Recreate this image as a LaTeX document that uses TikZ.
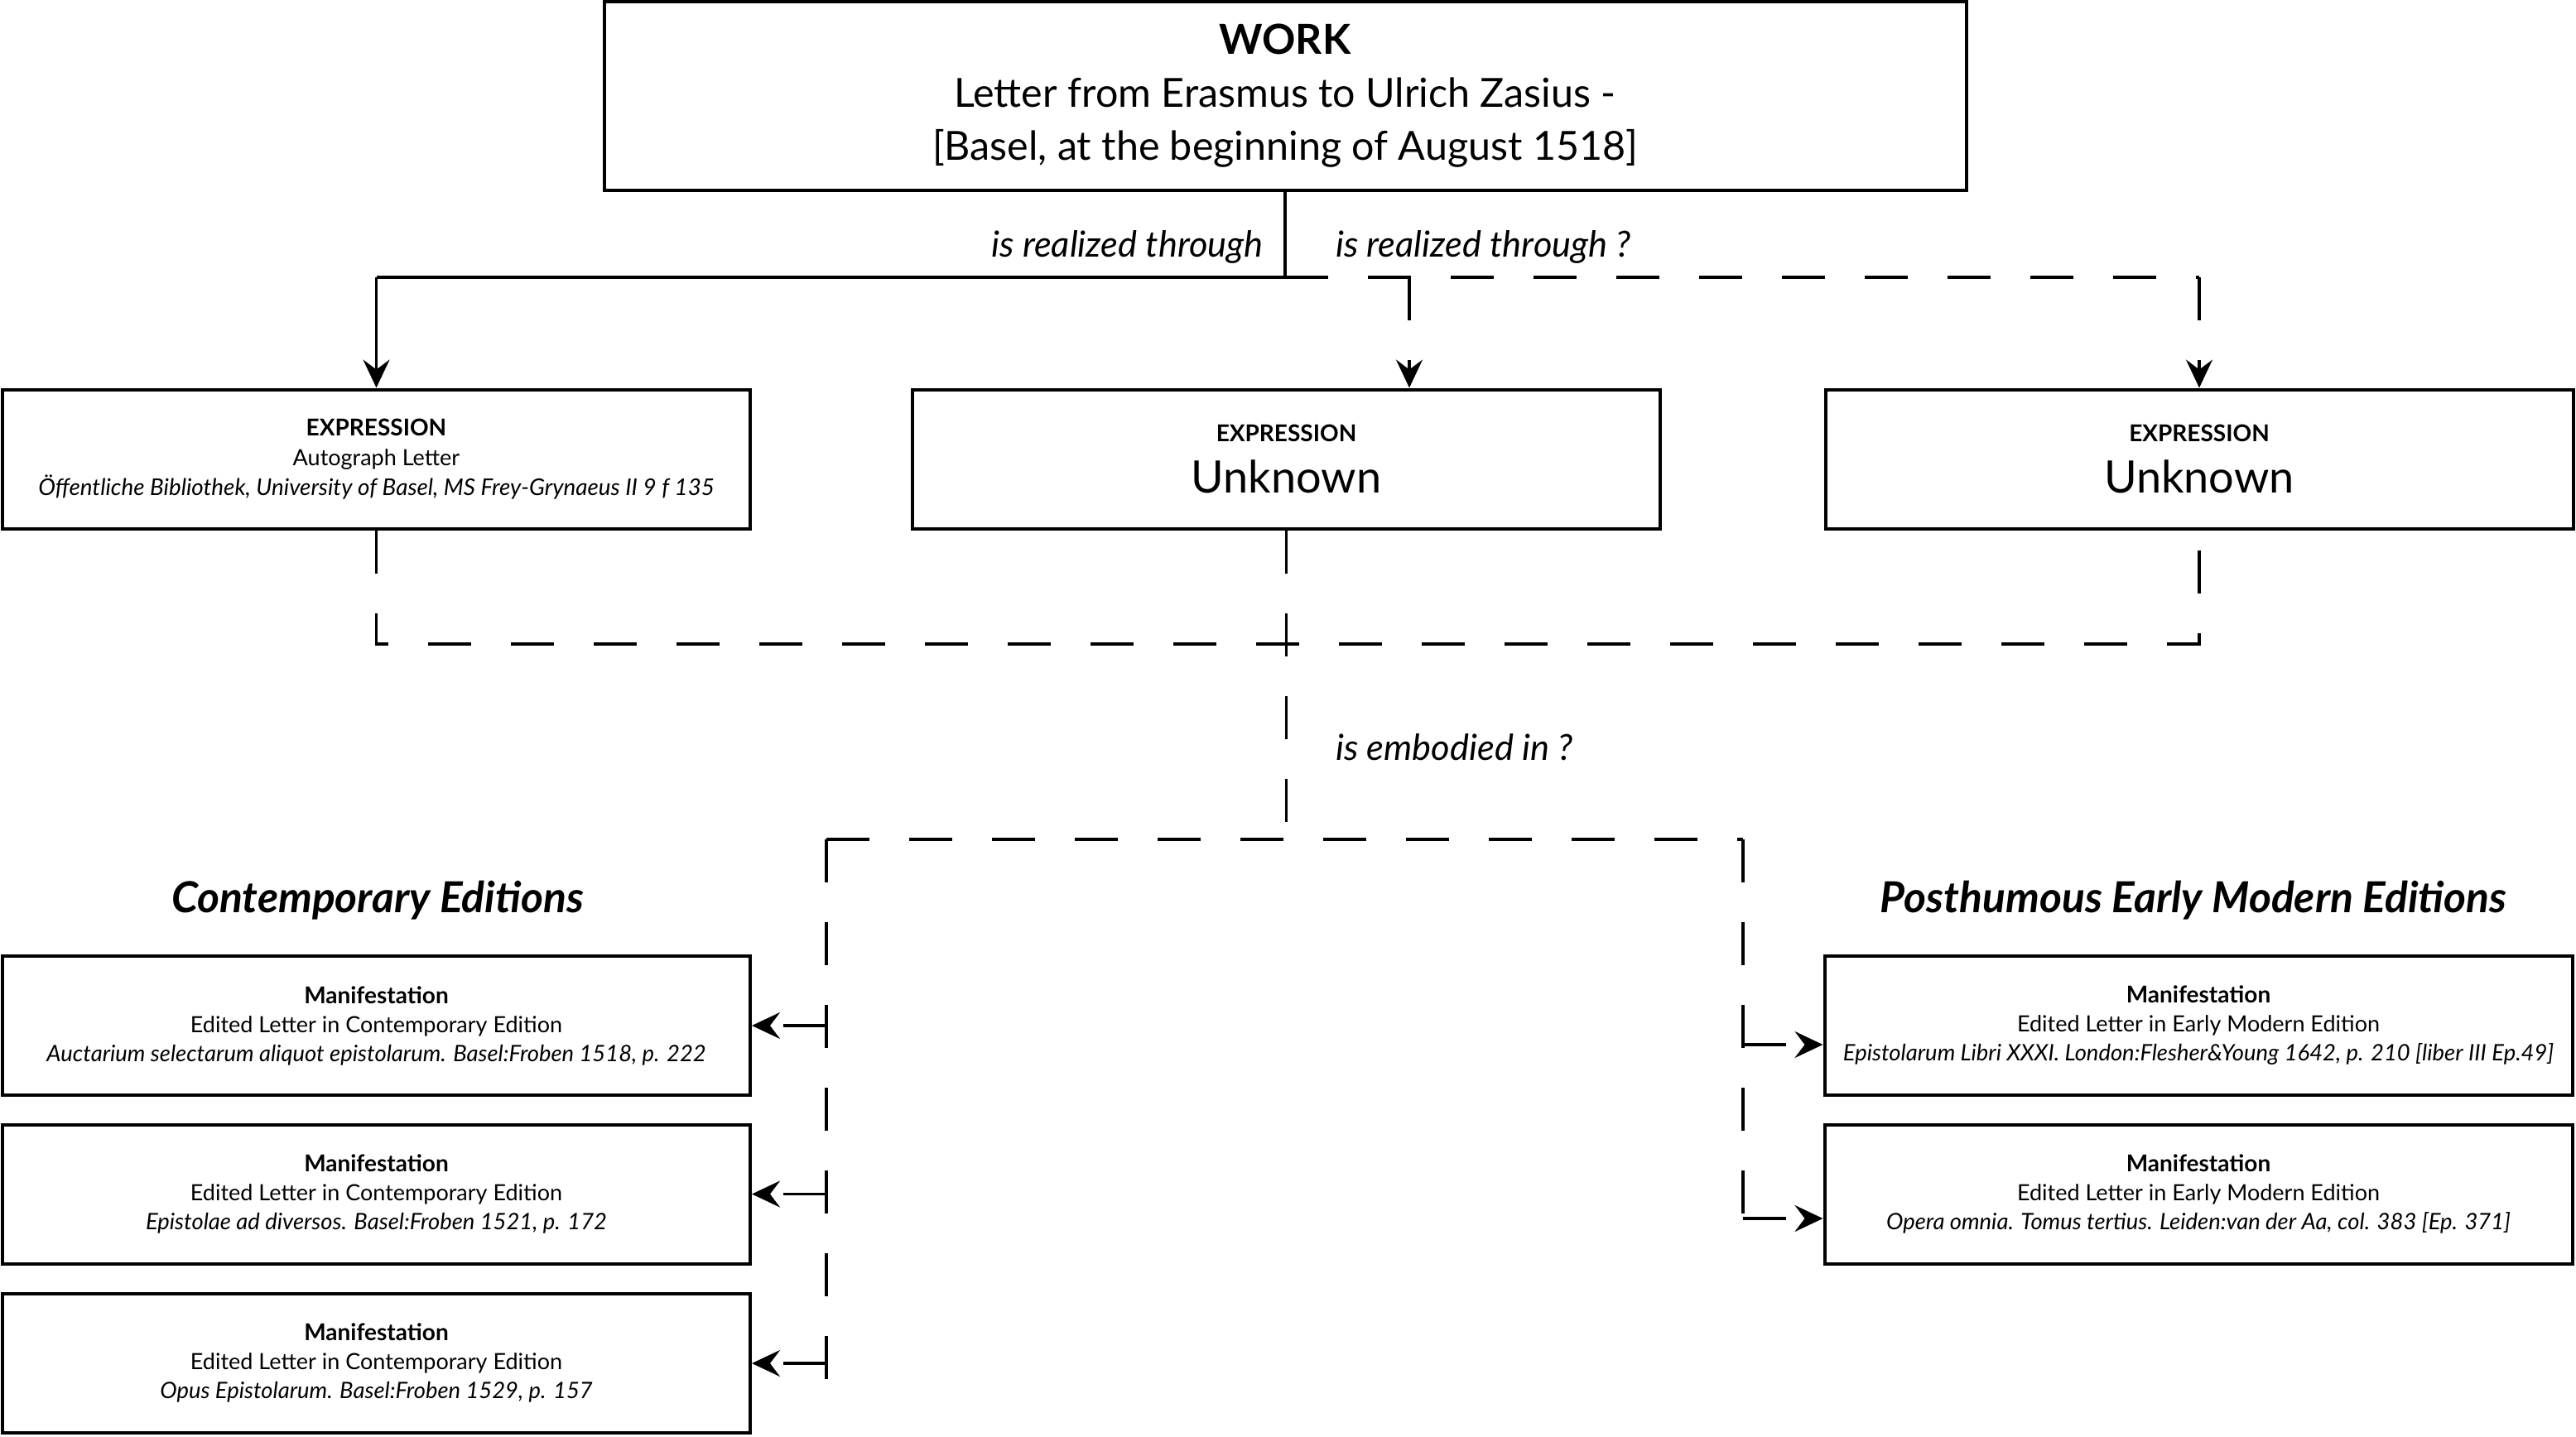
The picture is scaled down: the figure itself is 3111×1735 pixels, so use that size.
\documentclass[tikz,border=0pt]{standalone}
\usepackage{fontspec}
\setmainfont{Lato}
\usetikzlibrary{arrows.meta}
\tikzset{
  box/.style={draw, line width=2pt, inner sep=0pt, align=center, minimum width=903*0.5pt, minimum height=168*0.5pt},
  conn/.style={line width=1.6pt},
  dconn/.style={line width=1.6pt, dash pattern=on 26pt off 24pt},
  tip/.style={-{Stealth[length=17pt, width=16pt, inset=6pt]}},
  lbl/.style={font=\fontsize{21.7}{24}\selectfont\itshape, inner sep=0pt},
  head/.style={font=\fontsize{25.8}{28}\selectfont\bfseries\itshape, inner sep=0pt},
  mtitle/.style={font=\fontsize{13.5}{17.5}\selectfont}
}
\newcommand{\mlines}[2]{{\fontsize{14}{17.5}\selectfont\bfseries Manifestation}\\#1\\{\fontsize{13.7}{17.5}\selectfont\itshape #2}}
\begin{document}
\begin{tikzpicture}[x=0.5pt,y=-0.5pt]
\useasboundingbox[fill=white] (0,0) rectangle (3111,1735);
% WORK
\node[box, minimum width=1645*0.5pt, minimum height=228*0.5pt, font=\fontsize{24.2}{32}\selectfont] (work) at (1552,116)
 {{\fontsize{25}{33}\selectfont\bfseries WORK}\\Letter from Erasmus to Ulrich Zasius -\\{}[Basel, at the beginning of August 1518]};
% Expressions
\node[box, font=\fontsize{13.5}{18}\selectfont] (e1) at (454.5,554.5)
 {{\fontsize{14}{18}\selectfont\bfseries EXPRESSION}\\Autograph Letter\\{\fontsize{13.9}{18}\selectfont\itshape Öffentliche Bibliothek, University of Basel, MS Frey-Grynaeus II 9 f 135}};
\node[box, font=\fontsize{27}{31}\selectfont] (e2) at (1553.5,554.5)
 {{\fontsize{14}{34}\selectfont\bfseries EXPRESSION}\\Unknown};
\node[box, font=\fontsize{27}{31}\selectfont] (e3) at (2656,554.5)
 {{\fontsize{14}{34}\selectfont\bfseries EXPRESSION}\\Unknown};
% Manifestations left
\node[box, mtitle] (m1) at (454.5,1239) {\mlines{Edited Letter in Contemporary Edition}{Auctarium selectarum aliquot epistolarum. Basel:Froben 1518, p. 222}};
\node[box, mtitle] (m2) at (454.5,1442.5) {\mlines{Edited Letter in Contemporary Edition}{Epistolae ad diversos. Basel:Froben 1521, p. 172}};
\node[box, mtitle] (m3) at (454.5,1646.5) {\mlines{Edited Letter in Contemporary Edition}{Opus Epistolarum. Basel:Froben 1529, p. 157}};
% Manifestations right
\node[box, mtitle] (m4) at (2655,1239) {\mlines{Edited Letter in Early Modern Edition}{Epistolarum Libri XXXI. London:Flesher\&Young 1642, p. 210 [liber III Ep.49]}};
\node[box, mtitle] (m5) at (2655,1442.5) {\mlines{Edited Letter in Early Modern Edition}{Opera omnia. Tomus tertius. Leiden:van der Aa, col. 383 [Ep. 371]}};
% headings
\node[head] (h1) at (456,1088) {Contemporary Editions};
\node[head] (h2) at (2649,1088) {Posthumous Early Modern Editions};
% coordinates
\coordinate (w1) at (work.south |- 0,335);
\coordinate (wl) at (e1.north |- 0,335);
\coordinate (wm) at (1702,335);
\coordinate (wr) at (e3.north |- 0,335);
\coordinate (b1) at (e1.south |- 0,778);
\coordinate (b2) at (e2.south |- 0,778);
\coordinate (b3) at (e3.south |- 0,778);
\coordinate (c2) at (e2.south |- 0,1014);
\coordinate (cl) at (998,1014);
\coordinate (cr) at (2105,1014);
\coordinate (clend) at (998,1690);
\coordinate (crend) at (2105,1472);
% connectors top
\draw[conn] (work.south) -- (w1) -- (wl);
\draw[conn, tip] (wl) -- (e1.north);
\draw[dconn] (w1) -- (wr);
\draw[dconn, tip] (wm) -- (wm |- e2.north);
\draw[dconn, tip] (wr) -- (e3.north);
\node[lbl, anchor=east] (l1) at (1526,298) {is realized through};
\node[lbl, anchor=west] (l2) at (1613,298) {is realized through ?};
% middle
\draw[dconn] (e1.south) -- (b1) -- (b3) -- (e3.south);
\draw[dconn] (e2.south) -- (c2);
\node[lbl, anchor=west] (l3) at (1613,903) {is embodied in ?};
\draw[dconn] (cl) -- (cr);
\draw[dconn] (cl) -- (clend);
\draw[dconn] (cr) -- (crend);
% arrows to manifestations
\draw[dconn, tip] (cl |- m1.east) -- (m1.east);
\draw[dconn, tip] (cl |- m2.east) -- (m2.east);
\draw[dconn, tip] (cl |- 0,1647) -- (m3.east |- 0,1647);
\draw[dconn, tip] (cr |- 0,1262) -- (m4.west |- 0,1262);
\draw[dconn, tip] (crend) -- (m5.west |- crend);
\end{tikzpicture}
\end{document}
